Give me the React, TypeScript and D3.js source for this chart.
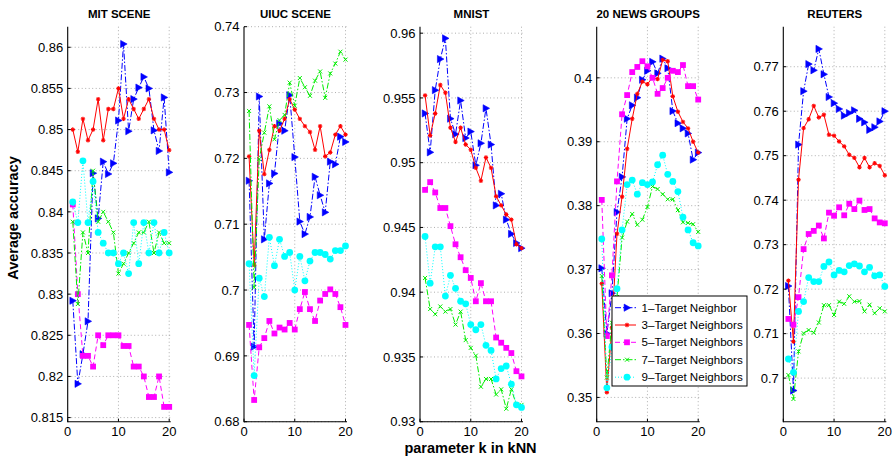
import React from "react";
import * as d3 from "d3";

const K = d3.range(1, 21);
const seriesNames = ["1\u2013Target Neighbor", "3\u2013Target Neighbors", "5\u2013Target Neighbors", "7\u2013Target Neighbors", "9\u2013Target Neighbors"];
const titles = ["MIT SCENE", "UIUC SCENE", "MNIST", "20 NEWS GROUPS", "REUTERS"];
const xTicks = [0, 10, 20];

// MIT SCENE
const mit1 = [0.8292, 0.8191, 0.8227, 0.8267, 0.8447, 0.8392, 0.8461, 0.8446, 0.8459, 0.8511, 0.8604, 0.8498, 0.8537, 0.8551, 0.8564, 0.855, 0.8499, 0.8474, 0.8539, 0.8448];
const mit3 = [0.85, 0.8473, 0.8513, 0.8487, 0.85, 0.8537, 0.8487, 0.8525, 0.8525, 0.855, 0.8513, 0.8537, 0.8525, 0.8513, 0.8525, 0.8537, 0.8513, 0.85, 0.85, 0.8475];
const mit5 = [0.8409, 0.83, 0.8225, 0.8225, 0.8212, 0.825, 0.8238, 0.825, 0.825, 0.825, 0.8237, 0.8237, 0.8212, 0.8212, 0.82, 0.8175, 0.8175, 0.82, 0.8163, 0.8163];
const mit7 = [0.8388, 0.8288, 0.8375, 0.835, 0.845, 0.8388, 0.84, 0.8388, 0.8375, 0.8325, 0.8337, 0.835, 0.8362, 0.8375, 0.8375, 0.8388, 0.835, 0.8375, 0.8362, 0.8362];
const mit9 = [0.8412, 0.8387, 0.8462, 0.8387, 0.8437, 0.8375, 0.8362, 0.835, 0.835, 0.8337, 0.835, 0.8325, 0.8387, 0.8337, 0.8387, 0.835, 0.8387, 0.835, 0.8375, 0.835];

// UIUC SCENE
const uiuc1 = [0.7166, 0.6914, 0.7294, 0.7077, 0.7162, 0.7177, 0.7253, 0.7242, 0.7296, 0.7202, 0.7104, 0.7085, 0.7111, 0.7172, 0.7144, 0.7118, 0.7195, 0.7191, 0.7233, 0.7225];
const uiuc3 = [0.7203, 0.7038, 0.7242, 0.7176, 0.7213, 0.7249, 0.7242, 0.726, 0.729, 0.7274, 0.726, 0.7249, 0.724, 0.7213, 0.7249, 0.7203, 0.7209, 0.7236, 0.7249, 0.7236];
const uiuc5 = [0.6947, 0.6833, 0.6913, 0.6927, 0.6953, 0.6934, 0.6943, 0.694, 0.695, 0.694, 0.6971, 0.6997, 0.6971, 0.6953, 0.6984, 0.6994, 0.7001, 0.6994, 0.6974, 0.6947];
const uiuc7 = [0.7272, 0.7004, 0.7199, 0.7239, 0.7279, 0.7229, 0.7258, 0.7266, 0.7315, 0.728, 0.7322, 0.7308, 0.7295, 0.7318, 0.7332, 0.7292, 0.7329, 0.7344, 0.7362, 0.735];
const uiuc9 = [0.704, 0.687, 0.7018, 0.699, 0.708, 0.7037, 0.7077, 0.7051, 0.7057, 0.7, 0.7051, 0.7014, 0.7044, 0.7057, 0.7057, 0.7054, 0.7047, 0.706, 0.706, 0.7067];

// MNIST
const mnist1 = [0.9538, 0.9508, 0.9556, 0.958, 0.9596, 0.9534, 0.9522, 0.9548, 0.9519, 0.9524, 0.9498, 0.9515, 0.9542, 0.9514, 0.9467, 0.9476, 0.9456, 0.9445, 0.9438, 0.9434];
const mnist3 = [0.9552, 0.9521, 0.9538, 0.956, 0.9554, 0.9527, 0.9516, 0.9527, 0.9514, 0.951, 0.9496, 0.9486, 0.9504, 0.9496, 0.9474, 0.9467, 0.946, 0.9456, 0.9437, 0.9434];
const mnist5 = [0.9479, 0.9485, 0.9477, 0.9465, 0.9465, 0.9451, 0.9437, 0.9427, 0.9417, 0.9411, 0.9393, 0.9407, 0.9393, 0.9393, 0.9365, 0.9361, 0.9357, 0.9353, 0.9339, 0.9335];
const mnist7 = [0.9411, 0.9387, 0.9383, 0.9389, 0.9385, 0.9387, 0.9375, 0.9385, 0.9363, 0.9357, 0.9351, 0.9327, 0.9333, 0.9333, 0.9321, 0.9325, 0.931, 0.9325, 0.9313, 0.9313];
const mnist9 = [0.9443, 0.9407, 0.9435, 0.9435, 0.9397, 0.9413, 0.9403, 0.9393, 0.9391, 0.9375, 0.9371, 0.9375, 0.9359, 0.9355, 0.9333, 0.9341, 0.9343, 0.9329, 0.9313, 0.9311];

// 20 NEWS GROUPS
const news1 = [0.3702, 0.36, 0.3663, 0.379, 0.3845, 0.3936, 0.3957, 0.3969, 0.3997, 0.4011, 0.4025, 0.4007, 0.403, 0.4015, 0.3948, 0.3929, 0.3921, 0.3913, 0.3872, 0.3883];
const news3 = [0.3678, 0.3508, 0.3609, 0.3756, 0.3814, 0.3889, 0.3936, 0.3975, 0.3994, 0.399, 0.4001, 0.3998, 0.4028, 0.4026, 0.3971, 0.3947, 0.3931, 0.3921, 0.39, 0.3883];
const news5 = [0.3809, 0.3596, 0.3691, 0.3838, 0.3943, 0.3973, 0.4009, 0.4017, 0.4026, 0.4018, 0.4, 0.3975, 0.3984, 0.4, 0.4011, 0.4009, 0.402, 0.3987, 0.3987, 0.3966];
const news7 = [0.369, 0.3531, 0.3617, 0.3657, 0.375, 0.3775, 0.3787, 0.377, 0.3778, 0.3798, 0.383, 0.3826, 0.3818, 0.381, 0.381, 0.3793, 0.3774, 0.3773, 0.3771, 0.3759];
const news9 = [0.3748, 0.3515, 0.3579, 0.367, 0.3762, 0.3833, 0.384, 0.3818, 0.3836, 0.3833, 0.3837, 0.3864, 0.3879, 0.3849, 0.3838, 0.3822, 0.3782, 0.3762, 0.3742, 0.3737];

// REUTERS
const reut1 = [0.7207, 0.6972, 0.7525, 0.7645, 0.7706, 0.7692, 0.774, 0.7683, 0.7632, 0.7618, 0.7605, 0.759, 0.7596, 0.7602, 0.7583, 0.7575, 0.7558, 0.7564, 0.7577, 0.76];
const reut3 = [0.7219, 0.7082, 0.7446, 0.7562, 0.7582, 0.7612, 0.7586, 0.7592, 0.7547, 0.7545, 0.7532, 0.7521, 0.7502, 0.7495, 0.7474, 0.7495, 0.7474, 0.7483, 0.7477, 0.7456];
const reut5 = [0.7133, 0.712, 0.7182, 0.729, 0.7324, 0.7331, 0.7343, 0.7314, 0.7372, 0.7365, 0.7384, 0.7366, 0.7392, 0.738, 0.7399, 0.7378, 0.738, 0.7359, 0.735, 0.7348];
const reut7 = [0.7007, 0.6953, 0.706, 0.7101, 0.7108, 0.7102, 0.7125, 0.7164, 0.7164, 0.7142, 0.7172, 0.7167, 0.7184, 0.7172, 0.7173, 0.715, 0.7165, 0.7146, 0.7157, 0.715];
const reut9 = [0.7043, 0.7013, 0.715, 0.7172, 0.7226, 0.7217, 0.7217, 0.7251, 0.7261, 0.7232, 0.7242, 0.7239, 0.7253, 0.7257, 0.7252, 0.7239, 0.7249, 0.723, 0.7232, 0.7206];

const mitTicks = [0.815, 0.82, 0.825, 0.83, 0.835, 0.84, 0.845, 0.85, 0.855, 0.86];
const uiucTicks = [0.68, 0.69, 0.7, 0.71, 0.72, 0.73, 0.74];
const mnistTicks = [0.93, 0.935, 0.94, 0.945, 0.95, 0.955, 0.96];
const newsTicks = [0.35, 0.36, 0.37, 0.38, 0.39, 0.4];
const reutTicks = [0.7, 0.71, 0.72, 0.73, 0.74, 0.75, 0.76, 0.77];

const yDomains: [number, number][] = [[0.8145, 0.8625], [0.68, 0.74], [0.93, 0.9605], [0.3462, 0.408], [0.6902, 0.779]];
const panelLefts = [67.7, 244, 420, 596.7, 783.3];

const panels = [
  { title: titles[0], ticks: mitTicks, data: [mit1, mit3, mit5, mit7, mit9] },
  { title: titles[1], ticks: uiucTicks, data: [uiuc1, uiuc3, uiuc5, uiuc7, uiuc9] },
  { title: titles[2], ticks: mnistTicks, data: [mnist1, mnist3, mnist5, mnist7, mnist9] },
  { title: titles[3], ticks: newsTicks, data: [news1, news3, news5, news7, news9] },
  { title: titles[4], ticks: reutTicks, data: [reut1, reut3, reut5, reut7, reut9] },
];

const COLORS = ["#0000ff", "#ff0000", "#ff00ff", "#00ee00", "#00ffff"];
const DASH = ["6,2,1.5,2", "", "5,3", "6,2,1.5,2", "1,2"];
const FONT = "'Liberation Sans', Arial, Helvetica, sans-serif";

const TOP = 26.7;
const BOTTOM = 421.7;
const PX_PER_K = 5.075;
const XMAX = 20.3;

function Marker({ s, x, y }: { s: number; x: number; y: number }) {
  const c = COLORS[s];
  if (s === 0) {
    const h = 3.6;
    return <path d={`M${x - h * 0.8},${y - h}L${x + h},${y}L${x - h * 0.8},${y + h}Z`} fill={c} stroke={c} strokeWidth={0.6} />;
  }
  if (s === 1) {
    const r = 2.2;
    return (
      <g stroke={c} strokeWidth={1.1}>
        <line x1={x - r} y1={y} x2={x + r} y2={y} />
        <line x1={x} y1={y - r} x2={x} y2={y + r} />
        <line x1={x - r * 0.7} y1={y - r * 0.7} x2={x + r * 0.7} y2={y + r * 0.7} />
        <line x1={x - r * 0.7} y1={y + r * 0.7} x2={x + r * 0.7} y2={y - r * 0.7} />
      </g>
    );
  }
  if (s === 2) {
    const h = 2.9;
    return <rect x={x - h} y={y - h} width={2 * h} height={2 * h} fill={c} />;
  }
  if (s === 3) {
    const r = 2;
    return (
      <g stroke={c} strokeWidth={1}>
        <line x1={x - r} y1={y - r} x2={x + r} y2={y + r} />
        <line x1={x - r} y1={y + r} x2={x + r} y2={y - r} />
      </g>
    );
  }
  return <circle cx={x} cy={y} r={3.4} fill={c} />;
}

function fmt(v: number) {
  return String(parseFloat(v.toFixed(4)));
}

function Panel({ p, i }: { p: (typeof panels)[number]; i: number }) {
  const left = panelLefts[i];
  const x = d3.scaleLinear().domain([0, XMAX]).range([left, left + PX_PER_K * XMAX]);
  const y = d3.scaleLinear().domain(yDomains[i]).range([BOTTOM, TOP]);
  const line = d3.line<number>().x((_, j) => x(K[j])).y((d) => y(d));
  const right = x(XMAX);
  return (
    <g>
      <text x={(left + right) / 2} y={18.3} textAnchor="middle" fontFamily={FONT} fontWeight="bold" fontSize={11.5}>
        {p.title}
      </text>
      {p.ticks.map((t) => (
        <line key={"gy" + t} x1={left} x2={right} y1={y(t)} y2={y(t)} stroke="#9a9a9a" strokeWidth={0.8} strokeDasharray="1,2.5" />
      ))}
      {xTicks.filter((t) => t > 0).map((t) => (
        <line key={"gx" + t} x1={x(t)} x2={x(t)} y1={TOP} y2={BOTTOM} stroke="#9a9a9a" strokeWidth={0.8} strokeDasharray="1,2.5" />
      ))}
      {p.data.map((d, s) => (
        <g key={"s" + s}>
          <path d={line(d) || ""} fill="none" stroke={COLORS[s]} strokeWidth={1} strokeDasharray={DASH[s] || undefined} />
          {d.map((v, j) => (
            <Marker key={j} s={s} x={x(K[j])} y={y(v)} />
          ))}
        </g>
      ))}
      <line x1={left} x2={left} y1={TOP} y2={BOTTOM + 0.5} stroke="#000" strokeWidth={1.1} />
      <line x1={left} x2={right} y1={BOTTOM} y2={BOTTOM} stroke="#000" strokeWidth={1.1} />
      {p.ticks.map((t) => (
        <g key={"ty" + t}>
          <line x1={left} x2={left + 3} y1={y(t)} y2={y(t)} stroke="#000" strokeWidth={1} />
          <text x={left - 4.5} y={y(t)} dy="0.36em" textAnchor="end" fontFamily={FONT} fontSize={13}>
            {fmt(t)}
          </text>
        </g>
      ))}
      {xTicks.map((t) => (
        <g key={"tx" + t}>
          <line x1={x(t)} x2={x(t)} y1={BOTTOM} y2={BOTTOM - 3} stroke="#000" strokeWidth={1} />
          <text x={x(t)} y={BOTTOM + 14.5} textAnchor="middle" fontFamily={FONT} fontSize={13}>
            {t}
          </text>
        </g>
      ))}
    </g>
  );
}

function Legend() {
  const lx = 612;
  const ly = 296;
  const w = 135;
  const h = 90;
  const rowY = [307.7, 325, 342.3, 359.7, 377.2];
  return (
    <g>
      <rect x={lx} y={ly} width={w} height={h} fill="#fff" stroke="#000" strokeWidth={1} />
      {seriesNames.map((n, s) => (
        <g key={n}>
          <line x1={615} x2={636} y1={rowY[s]} y2={rowY[s]} stroke={COLORS[s]} strokeWidth={1} strokeDasharray={DASH[s] || undefined} />
          <Marker s={s} x={627} y={rowY[s]} />
          <text x={641.5} y={rowY[s]} dy="0.36em" fontFamily={FONT} fontSize={11.6}>
            {n}
          </text>
        </g>
      ))}
    </g>
  );
}

export default function App() {
  return (
    <svg width={893} height={460} style={{ position: "absolute", left: 0, top: 0, background: "#fff" }}>
      <rect width={893} height={460} fill="#fff" />
      {panels.map((p, i) => (
        <Panel key={p.title} p={p} i={i} />
      ))}
      <Legend />
      <text transform="translate(18,218) rotate(-90)" textAnchor="middle" fontFamily={FONT} fontWeight="bold" fontSize={14.5}>
        Average accuracy
      </text>
      <text x={470.5} y={453} textAnchor="middle" fontFamily={FONT} fontWeight="bold" fontSize={14.5}>
        parameter k in kNN
      </text>
    </svg>
  );
}
